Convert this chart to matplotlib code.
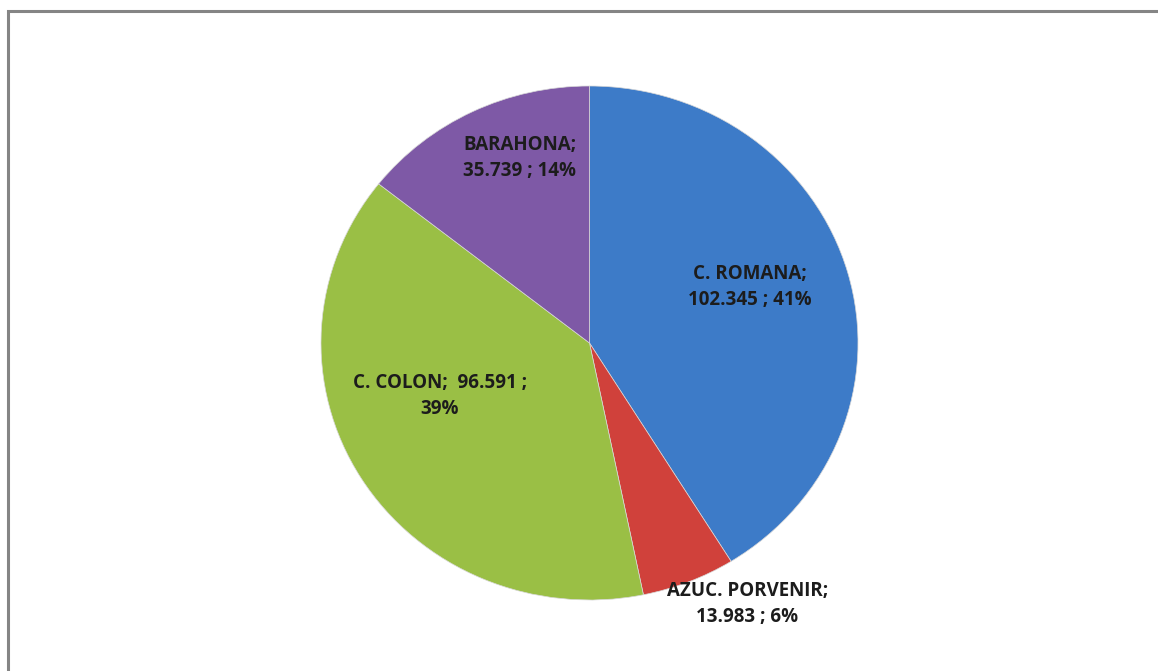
import matplotlib
matplotlib.use("Agg")
import matplotlib.pyplot as plt
from matplotlib.patches import Rectangle

names = ["C. ROMANA", "AZUC. PORVENIR", "C. COLON", "BARAHONA"]
values = [102.345, 13.983, 96.591, 35.739]
colors = ["#3d7bc8", "#d0413b", "#9abf45", "#7e59a6"]

total = sum(values)
pcts = [round(v / total * 100) for v in values]
labels = [
    f"{names[0]};\n{values[0]:.3f} ; {pcts[0]}%",
    f"{names[1]};\n{values[1]:.3f} ; {pcts[1]}%",
    f"{names[2]};  {values[2]:.3f} ;\n{pcts[2]}%",
    f"{names[3]};\n{values[3]:.3f} ; {pcts[3]}%",
]
# label centres, in pie units (x right, y up)
label_pos = [(0.598, 0.218), (0.588, -1.016), (-0.557, -0.206), (-0.259, 0.72)]

fig = plt.figure(figsize=(11.58, 6.71), dpi=100)
fig.patch.set_facecolor("white")

W, H = 1158, 671
ax = fig.add_axes([321 / W, (H - 600) / H, 537 / W, 514 / H])
wedges, _ = ax.pie(values, colors=colors, startangle=90, counterclock=False,
                   radius=1, wedgeprops=dict(edgecolor="#d8d8d8", linewidth=0.5))
ax.set_aspect("auto")
ax.set_xlim(-1, 1)
ax.set_ylim(-1, 1)
ax.axis("off")

for txt, (x, y) in zip(labels, label_pos):
    ax.text(x, y, txt, ha="center", va="center", fontsize=13.5,
            fontweight="bold", family="Open Sans", color="#1c1c1c",
            linespacing=1.4, clip_on=False)

# outer chart frame
fig.patches.append(Rectangle((8 / W, -0.05), 1.1, 1 - 11.5 / H + 0.05,
                             transform=fig.transFigure, fill=False,
                             edgecolor="#858585", linewidth=2.2))

fig.savefig("out.png", dpi=100, facecolor="white")
